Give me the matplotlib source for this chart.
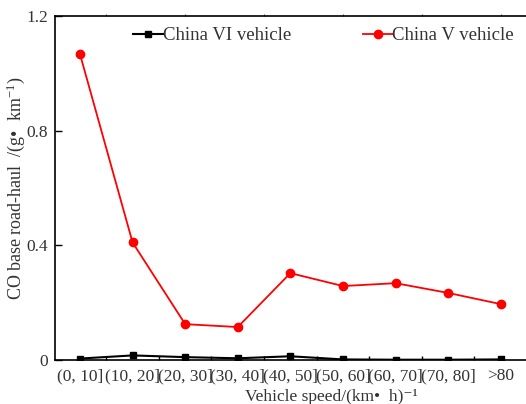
import matplotlib
matplotlib.use("Agg")
import matplotlib.pyplot as plt
import numpy as np

plt.rcParams['font.family'] = ['Liberation Serif', 'DejaVu Serif']
plt.rcParams['mathtext.fontset'] = 'custom'
plt.rcParams['mathtext.rm'] = 'Liberation Serif'
plt.rcParams['mathtext.it'] = 'Liberation Serif:italic'

speed_bins = ["(0, 10]", "(10, 20]", "(20, 30]", "(30, 40]", "(40, 50]",
              "(50, 60]", "(60, 70]", "(70, 80]", ">80"]
china_vi = [0.005, 0.016, 0.010, 0.006, 0.013, 0.002, 0.001, 0.001, 0.002]
china_v = [1.067, 0.410, 0.125, 0.115, 0.303, 0.258, 0.268, 0.234, 0.195]
y_ticks = [0, 0.4, 0.8, 1.2]
y_tick_labels = ["0", "0.4", "0.8", "1.2"]

W, H = 526, 404
fig = plt.figure(figsize=(W / 100, H / 100), dpi=100)
ax = fig.add_axes([55 / W, 44 / H, (607 - 55) / W, 344 / H])

x = np.arange(len(speed_bins))
ax.plot(x, china_vi, color='black', lw=1.5, marker='s', ms=4.5,
        label='China VI vehicle', zorder=3)
ax.plot(x, china_v, color='#ff0000', lw=1.3, marker='o', ms=6,
        label='China V vehicle', zorder=3)

ax.set_xlim(-0.475, 10.02)
ax.set_ylim(0, 1.2)

ax.set_xticks(x)
ax.set_xticklabels(speed_bins, fontsize=12.5, color='#333333')
ax.set_xticks(np.arange(0.5, 8.6, 1.0), minor=True)
ax.tick_params(axis='x', which='major', length=0, pad=6)
ax.tick_params(axis='x', which='minor', direction='in', length=3, width=1)

ax.set_yticks(y_ticks)
ax.set_yticklabels(y_tick_labels, fontsize=12.5, color='#333333')
ax.tick_params(axis='y', direction='in', length=5, width=1, pad=5)

for side in ['left', 'bottom', 'top']:
    ax.spines[side].set_linewidth(1.2)
ax.spines['right'].set_visible(False)

# faint ticks along the top frame
top = ax.secondary_xaxis('top')
top.set_xticks(np.arange(0.5, 10.0, 1.5))
top.set_xticklabels([])
top.tick_params(direction='out', length=1.5, width=0.8, colors='#555555')
top.spines['top'].set_visible(False)

fig.text(331 / W, 1 - 401 / H, 'Vehicle speed/(km•  h)⁻¹', fontsize=12.5,
         color='#333333', ha='center', va='baseline')
fig.text(16 / W, 1 - 188 / H, 'CO base road-haul  /(g•  km$^{-1}$)',
         fontsize=13, color='#333333', ha='center', va='center',
         rotation=90)

ax.legend(loc='upper left', bbox_to_anchor=(133 / W, 1 - 27 / H),
          bbox_transform=fig.transFigure, ncol=2, frameon=False,
          fontsize=13.5, handlelength=1.6, handletextpad=0.0,
          columnspacing=3.8, borderpad=0, borderaxespad=0,
          labelcolor='#333333')

fig.savefig('out.png', dpi=100)
